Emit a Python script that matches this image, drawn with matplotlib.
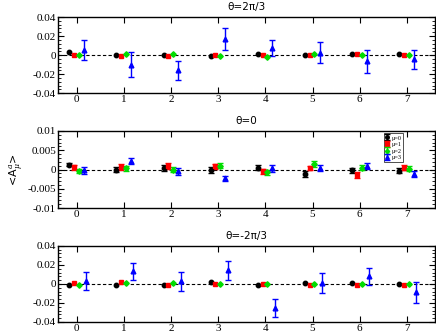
import numpy as np
import matplotlib
matplotlib.use('Agg')
import matplotlib.pyplot as plt
from matplotlib.ticker import FuncFormatter, MultipleLocator, AutoMinorLocator

plt.rcParams['font.family'] = ['Liberation Serif', 'DejaVu Serif']
plt.rcParams['mathtext.fontset'] = 'dejavuserif'

a_idx = np.arange(8)

# theta = 2pi/3
top_mu0 = [0.0028, 0.0, -0.0003, -0.001, 0.0007, -0.0003, 0.0007, 0.0007]
top_mu1 = [0.0, -0.0014, -0.001, -0.0003, 0.0, 0.0003, 0.0007, -0.0003]
top_mu2 = [0.0, 0.0007, 0.0007, -0.001, -0.0017, 0.001, 0.0003, 0.0003]
top_mu3 = [0.0055, -0.0100, -0.0160, 0.0172, 0.0074, 0.0025, -0.0067, -0.0046]
top_mu3_err = [0.0103, 0.0128, 0.0097, 0.0118, 0.0086, 0.0110, 0.0120, 0.0103]

# theta = 0
mid_mu0 = [0.0013, 0.0, 0.0003, -0.0002, 0.0005, -0.0012, -0.0002, -0.0003]
mid_mu0_err = [0.0005, 0.0007, 0.0008, 0.0008, 0.0006, 0.0007, 0.0007, 0.0007]
mid_mu1 = [0.0006, 0.0007, 0.0009, 0.0008, -0.0005, 0.0004, -0.0014, 0.0005]
mid_mu1_err = [0.0006, 0.0007, 0.0007, 0.0006, 0.0007, 0.0006, 0.0007, 0.0007]
mid_mu2 = [-0.0004, 0.0003, 0.0, 0.001, -0.0007, 0.0015, 0.0005, 0.0002]
mid_mu2_err = [0.0006, 0.0006, 0.0007, 0.0007, 0.0006, 0.0008, 0.0007, 0.0006]
mid_mu3 = [-0.0002, 0.0023, -0.0004, -0.0023, 0.0003, 0.0004, 0.001, -0.0012]
mid_mu3_err = [0.0009, 0.0008, 0.0009, 0.0007, 0.001, 0.0009, 0.0008, 0.0008]

# theta = -2pi/3
bot_mu0 = [-0.001, -0.0007, -0.0007, 0.0018, -0.0007, 0.0007, 0.0007, -0.0003]
bot_mu1 = [0.0014, 0.0018, -0.001, -0.0003, -0.0003, -0.0007, -0.001, -0.0007]
bot_mu2 = [-0.001, 0.0007, 0.0007, 0.0, -0.0003, 0.0, 0.0, 0.0]
bot_mu3 = [0.0035, 0.0133, 0.0028, 0.0144, -0.0253, 0.001, 0.008, -0.0088]
bot_mu3_err = [0.0095, 0.0088, 0.0098, 0.0100, 0.0091, 0.0107, 0.0091, 0.0109]

labels = ['μ=0', 'μ=1', 'μ=2', 'μ=3']
colors = ['black', 'red', '#00dd00', 'blue']
markers = ['o', 's', 'D', '^']
sizes = [3.2, 3.2, 2.8, 3.4]

fig = plt.figure(figsize=(4.36, 3.35), dpi=100)
ax1 = fig.add_axes([0.133, 0.722, 0.865, 0.227])
ax2 = fig.add_axes([0.133, 0.379, 0.865, 0.230])
ax3 = fig.add_axes([0.133, 0.039, 0.865, 0.227])

fmt = FuncFormatter(lambda v, p: ('%g' % round(v, 6)).replace('\u2212', '-'))


def panel(ax, series, errs, offsets, title, lim, major):
    for i in range(4):
        ax.errorbar(a_idx + offsets[i], series[i], yerr=errs[i], fmt=markers[i],
                    color=colors[i], ms=sizes[i], elinewidth=1, capsize=2,
                    capthick=1, label=labels[i], zorder=3)
    ax.axhline(0, color='black', ls='--', lw=0.8, dashes=(3, 2), zorder=1)
    ax.set_xlim(-0.4, 7.6)
    ax.set_ylim(-lim, lim)
    ax.set_xticks(a_idx)
    ax.yaxis.set_major_locator(MultipleLocator(major))
    ax.yaxis.set_minor_locator(AutoMinorLocator(5))
    ax.yaxis.set_major_formatter(fmt)
    ax.tick_params(direction='in', top=True, right=True, labelsize=8,
                   length=4, width=0.8, pad=1.5)
    ax.tick_params(which='minor', direction='in', right=True, length=2,
                   width=0.6)
    ax.set_title(title, fontsize=7.5, pad=5, family=['DejaVu Sans'])
    for s in ax.spines.values():
        s.set_linewidth(1.0)


panel(ax1, [top_mu0, top_mu1, top_mu2, top_mu3],
      [None, None, None, top_mu3_err], [-0.16, -0.06, 0.04, 0.15],
      'θ=2π/3', 0.04, 0.02)
panel(ax2, [mid_mu0, mid_mu1, mid_mu2, mid_mu3],
      [mid_mu0_err, mid_mu1_err, mid_mu2_err, mid_mu3_err],
      [-0.16, -0.06, 0.04, 0.15], 'θ=0', 0.01, 0.005)
panel(ax3, [bot_mu0, bot_mu1, bot_mu2, bot_mu3],
      [None, None, None, bot_mu3_err], [-0.16, -0.06, 0.04, 0.2],
      'θ=-2π/3', 0.04, 0.02)

ax2.set_ylabel(r'<A$^a_\mu$>', fontsize=8, family=['DejaVu Sans'], labelpad=2)
leg = ax2.legend(loc='upper right', bbox_to_anchor=(0.915, 0.97), fontsize=4.5,
                 frameon=True, fancybox=False, edgecolor='black',
                 handlelength=0.6, handletextpad=0.3, borderpad=0.3,
                 labelspacing=0.2, markerscale=0.8, borderaxespad=0)
leg.get_frame().set_linewidth(0.6)

fig.savefig('out.png', dpi=100)
